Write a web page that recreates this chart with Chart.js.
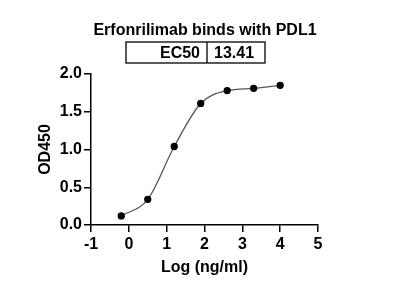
<!DOCTYPE html>
<html>
<head>
<meta charset="utf-8">
<script src="https://cdn.jsdelivr.net/npm/chart.js@4/dist/chart.umd.min.js"></script>
<style>
  html, body { margin: 0; padding: 0; background: #fff; }
  #wrap { width: 400px; height: 283px; }
</style>
</head>
<body>
<div id="wrap"><canvas id="myChart" width="400" height="283"></canvas></div>
<script>
// log concentration (ng/ml) and OD450 readings
const logConc = [-0.2, 0.5, 1.2, 1.9, 2.6, 3.3, 4.0];
const od450 = [0.12, 0.34, 1.04, 1.61, 1.78, 1.81, 1.85];
const xTicks = [-1, 0, 1, 2, 3, 4, 5];
const yTicks = [0.0, 0.5, 1.0, 1.5, 2.0];
const chartTitle = 'Erfonrilimab binds with PDL1';
const ec50Label = 'EC50';
const ec50Value = '13.41';

const FONT = '"Liberation Sans", Arial, sans-serif';

document.addEventListener("DOMContentLoaded", function() {
  var ctx = document.getElementById('myChart').getContext('2d');

  // title + little EC50 table above the plot
  const header = {
    id: 'header',
    afterDraw(chart) {
      const c = chart.ctx;
      const x0 = 126, x1 = 207, x2 = 265, y0 = 42, y1 = 63;
      c.save();
      c.fillStyle = '#000';
      c.font = 'bold 16px ' + FONT;
      c.textBaseline = 'alphabetic';
      c.textAlign = 'center';
      c.fillText(chartTitle, 205, 35);

      c.strokeStyle = '#000';
      c.lineWidth = 1.3;
      c.strokeRect(x0, y0, x2 - x0, y1 - y0);
      c.beginPath();
      c.moveTo(x1, y0);
      c.lineTo(x1, y1);
      c.stroke();
      c.textAlign = 'right';
      c.fillText(ec50Label, x1 - 7, 58);
      c.textAlign = 'left';
      c.fillText(ec50Value, x1 + 7, 58);
      c.restore();
    }
  };

  var points = logConc.map((x, i) => ({ x: x, y: od450[i] }));

  new Chart(ctx, {
    type: 'scatter',
    data: {
      datasets: [{
        data: points,
        showLine: true,
        cubicInterpolationMode: 'monotone',
        borderColor: '#555',
        borderWidth: 1.3,
        backgroundColor: '#000',
        pointBackgroundColor: '#000',
        pointBorderColor: '#000',
        pointRadius: 3
      }]
    },
    options: {
      responsive: false,
      animation: false,
      layout: { padding: { left: 0, right: 82, top: 74, bottom: 0 } },
      plugins: {
        legend: { display: false },
        tooltip: { enabled: false },
        title: { display: false }
      },
      scales: {
        x: {
          type: 'linear',
          min: -1, max: 5,
          afterBuildTicks: axis => { axis.ticks = xTicks.map(v => ({ value: v })); },
          afterFit: axis => { axis.height = 58; },
          grid: { display: true, drawOnChartArea: false, drawTicks: true, tickLength: 7, color: '#000', lineWidth: 1.5 },
          border: { display: true, color: '#000', width: 1.5 },
          ticks: {
            color: '#000', padding: 3,
            font: { family: FONT, size: 16, weight: 'bold' }
          },
          title: {
            display: true, text: 'Log (ng/ml)', color: '#000', padding: { top: 0, bottom: 6 },
            font: { family: FONT, size: 16, weight: 'bold' }
          }
        },
        y: {
          min: 0, max: 2,
          afterBuildTicks: axis => { axis.ticks = yTicks.map(v => ({ value: v })); },
          afterFit: axis => { axis.width = 91; },
          grid: { display: true, drawOnChartArea: false, drawTicks: true, tickLength: 7, color: '#000', lineWidth: 1.5 },
          border: { display: true, color: '#000', width: 1.5 },
          ticks: {
            color: '#000', padding: 2,
            callback: v => v.toFixed(1),
            font: { family: FONT, size: 16, weight: 'bold' }
          },
          title: {
            display: true, text: 'OD450', color: '#000', padding: { top: 36, bottom: 0 },
            font: { family: FONT, size: 16, weight: 'bold' }
          }
        }
      }
    },
    plugins: [header]
  });
});
</script>
</body>
</html>
